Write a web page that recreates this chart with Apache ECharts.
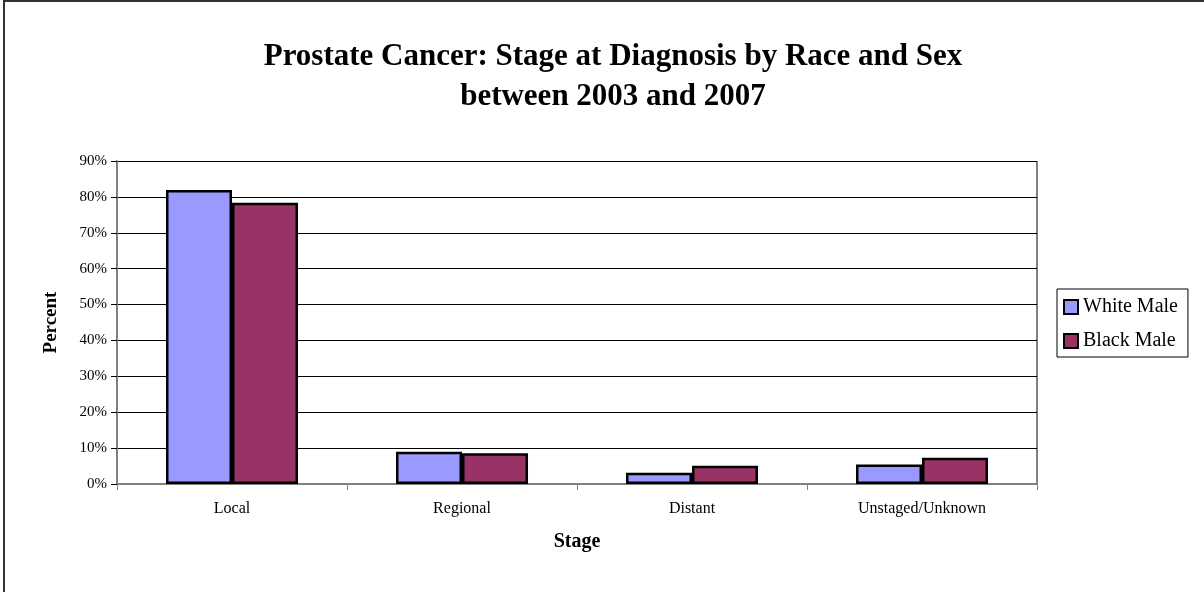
<!DOCTYPE html>
<html>
<head>
<meta charset="utf-8">
<script src="https://cdn.jsdelivr.net/npm/echarts@6/dist/echarts.min.js"></script>
<style>
html, body { margin: 0; padding: 0; background: #fff; }
#chart { width: 1204px; height: 592px; }
</style>
</head>
<body>
<div id="chart"></div>
<script>
// 数据
var stages = ["Local", "Regional", "Distant", "Unstaged/Unknown"];
var whiteMale = [81.9, 9.0, 3.1, 5.4];
var blackMale = [78.4, 8.6, 5.1, 7.3];

var chart = echarts.init(document.getElementById("chart"));
var font = "Liberation Serif, Times New Roman, serif";

chart.setOption({
    backgroundColor: "#fff",
    animation: false,
    textStyle: { fontFamily: font, color: "#000" },
    title: {
        text: "Prostate Cancer: Stage at Diagnosis by Race and Sex\nbetween 2003 and 2007",
        left: 608,
        textAlign: "center",
        top: 32,
        textStyle: { fontFamily: font, fontSize: 31, fontWeight: "bold", lineHeight: 40, color: "#000" }
    },
    legend: {
        orient: "vertical",
        left: 1057,
        top: 289,
        padding: [8, 10, 6, 6],
        itemGap: 14,
        itemWidth: 14,
        itemHeight: 14,
        borderColor: "#000",
        borderWidth: 1,
        icon: "rect",
        itemStyle: { borderColor: "#000", borderWidth: 2 },
        textStyle: { fontFamily: font, fontSize: 20, color: "#000", padding: [0, 0, 0, 0] },
        data: ["White Male", "Black Male"]
    },
    //网格
    grid: { left: 117, right: 167, top: 161, bottom: 108 },
    xAxis: {
        type: "category",
        data: stages,
        name: "Stage",
        nameLocation: "middle",
        nameGap: 48,
        nameTextStyle: { fontFamily: font, fontSize: 20, fontWeight: "bold", color: "#000" },
        axisLine: { lineStyle: { color: "#808080", width: 2 } },
        axisTick: { show: true, length: 6, lineStyle: { color: "#808080" } },
        axisLabel: { fontFamily: font, fontSize: 16, color: "#000", margin: 17 }
    },
    yAxis: {
        type: "value",
        min: 0,
        max: 90,
        interval: 10,
        name: "Percent",
        nameLocation: "middle",
        nameGap: 56,
        nameTextStyle: { fontFamily: font, fontSize: 19, fontWeight: "bold", color: "#000" },
        axisLine: { show: true, lineStyle: { color: "#808080", width: 2 } },
        axisTick: { show: true, length: 6, lineStyle: { color: "#000" } },
        axisLabel: { fontFamily: font, fontSize: 15, color: "#000", formatter: "{value}%", margin: 10 },
        splitLine: { show: true, lineStyle: { color: "#000", width: 1 } }
    },
    series: [
        {
            name: "White Male",
            type: "bar",
            data: whiteMale,
            barGap: "0%",
            barCategoryGap: "42.6%",
            itemStyle: { color: "#9999FF", borderColor: "#000", borderWidth: 2.5 }
        },
        {
            name: "Black Male",
            type: "bar",
            data: blackMale,
            barGap: "0%",
            barCategoryGap: "42.6%",
            itemStyle: { color: "#993366", borderColor: "#000", borderWidth: 2.5 }
        }
    ],
    graphic: [
        { type: "line", shape: { x1: 4, y1: 1, x2: 4, y2: 592 }, style: { stroke: "#333", lineWidth: 2 }, silent: true },
        { type: "line", shape: { x1: 3, y1: 1, x2: 1204, y2: 1 }, style: { stroke: "#333", lineWidth: 2 }, silent: true },
        { type: "line", shape: { x1: 1037, y1: 161, x2: 1037, y2: 485 }, style: { stroke: "#808080", lineWidth: 2 }, silent: true }
    ]
});
</script>
</body>
</html>
